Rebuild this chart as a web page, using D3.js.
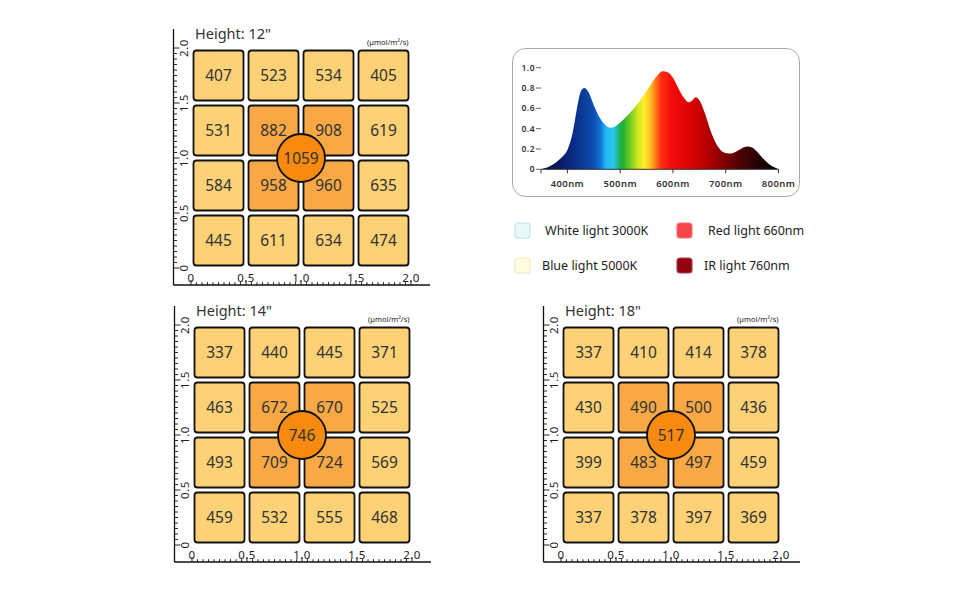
<!DOCTYPE html>
<html>
<head>
<meta charset="utf-8">
<script src="https://cdn.jsdelivr.net/npm/d3@7"></script>
<style>
  html, body { margin: 0; padding: 0; background: #fff; }
  svg { display: block; font-family: "Noto Sans", "Open Sans", sans-serif; }
</style>
</head>
<body>
<svg id="chart" width="970" height="600"></svg>
<script>
// ---------- DATA ----------
const panelTitles = ['Height: 12"', 'Height: 14"', 'Height: 18"'];
const unitLabel = "(µmol/m²/s)";
// PPFD grid values, rows top -> bottom, columns left -> right
const ppfd12 = [[407, 523, 534, 405], [531, 882, 908, 619], [584, 958, 960, 635], [445, 611, 634, 474]];
const ppfd14 = [[337, 440, 445, 371], [463, 672, 670, 525], [493, 709, 724, 569], [459, 532, 555, 468]];
const ppfd18 = [[337, 410, 414, 378], [430, 490, 500, 436], [399, 483, 497, 459], [337, 378, 397, 369]];
const centerValues = [1059, 746, 517];
const gridTicks = [0, 0.5, 1.0, 1.5, 2.0];
const gridTickLabels = ["0", "0.5", "1.0", "1.5", "2.0"];

// spectrum (wavelength nm, relative intensity)
const specWavelength = [350, 360, 370, 380, 390, 400, 410, 420, 425, 432, 440, 450, 460, 470, 480, 490, 500, 510, 520, 530, 540, 550, 560, 570, 580, 590, 600, 610, 620, 630, 637, 643, 650, 660, 670, 680, 690, 700, 710, 720, 730, 740, 750, 760, 770, 780, 790, 800];
const specIntensity = [0, 0.015, 0.04, 0.075, 0.12, 0.19, 0.36, 0.65, 0.76, 0.80, 0.76, 0.63, 0.52, 0.445, 0.41, 0.42, 0.46, 0.51, 0.565, 0.625, 0.695, 0.77, 0.85, 0.92, 0.965, 0.955, 0.9, 0.8, 0.71, 0.66, 0.68, 0.71, 0.68, 0.56, 0.40, 0.27, 0.19, 0.16, 0.155, 0.175, 0.205, 0.225, 0.215, 0.17, 0.11, 0.06, 0.025, 0];
const specYTicks = [0, 0.2, 0.4, 0.6, 0.8, 1.0];
const specYTickLabels = ["0", "0.2", "0.4", "0.6", "0.8", "1.0"];
const specXTicks = [400, 500, 600, 700, 800];
const specXTickLabels = ["400nm", "500nm", "600nm", "700nm", "800nm"];

const legendLabels = ["White light 3000K", "Blue light 5000K", "Red light 660nm", "IR light 760nm"];

// ---------- STYLE ----------
const colLight = "#FDD175";
const colDark = "#F8A845";
const colCircle = "#F98A10";
const textCol = "#333";
const panelOffsets = [[0, 0], [1, 277], [370, 277]];
const grids = [ppfd12, ppfd14, ppfd18];

const svg = d3.select("#chart");

// ---------- PPFD PANELS ----------
grids.forEach((grid, p) => {
  const [dx, dy] = panelOffsets[p];
  const g = svg.append("g");
  const x = d3.scaleLinear().domain([0, 2]).range([191 + dx, 411 + dx]);
  const y = d3.scaleLinear().domain([0, 2]).range([268 + dy, 48 + dy]);
  const axX = 173.5 + dx, axY = 285 + dy;

  // axis lines
  g.append("line").attr("x1", axX).attr("x2", axX).attr("y1", 29 + dy).attr("y2", axY)
    .attr("stroke", "#111").attr("stroke-width", 1.3);
  g.append("line").attr("x1", axX).attr("x2", 430 + dx).attr("y1", axY).attr("y2", axY)
    .attr("stroke", "#111").attr("stroke-width", 1.3);

  const minor = d3.range(0, 2.0001, 0.05);
  const isMajor = (d) => Math.abs(d * 2 - Math.round(d * 2)) < 1e-6;
  // left ticks
  g.selectAll(".yt").data(minor).join("line")
    .attr("x1", axX).attr("x2", (d) => axX + (isMajor(d) ? 6 : 3.5))
    .attr("y1", (d) => y(d)).attr("y2", (d) => y(d))
    .attr("stroke", "#111").attr("stroke-width", 0.9);
  // bottom ticks
  g.selectAll(".xt").data(minor).join("line")
    .attr("y1", axY).attr("y2", (d) => axY - (isMajor(d) ? 5 : 2.8))
    .attr("x1", (d) => x(d)).attr("x2", (d) => x(d))
    .attr("stroke", "#111").attr("stroke-width", 0.9);

  // y labels (rotated)
  g.selectAll(".yl").data(gridTicks).join("text")
    .attr("transform", (d) => `translate(${187.5 + dx},${y(d)}) rotate(-90)`)
    .attr("text-anchor", "middle")
    .attr("font-size", 11.5).attr("letter-spacing", 0.5).attr("fill", "#222")
    .text((d, i) => gridTickLabels[i]);
  // x labels
  g.selectAll(".xl").data(gridTicks).join("text")
    .attr("x", (d) => x(d)).attr("y", 281.5 + dy)
    .attr("text-anchor", "middle")
    .attr("font-size", 11.5).attr("letter-spacing", 0.5).attr("fill", "#222")
    .text((d, i) => gridTickLabels[i]);

  // title & unit
  g.append("text").attr("x", 195 + dx).attr("y", 39 + dy)
    .attr("font-size", 14.5).attr("fill", textCol).text(panelTitles[p]);
  g.append("text").attr("x", 408.5 + dx).attr("y", 45 + dy)
    .attr("text-anchor", "end").attr("font-size", 7.5).attr("fill", "#222").text(unitLabel);

  // cells
  const cells = [];
  grid.forEach((row, r) => row.forEach((v, c) => cells.push({ r, c, v })));
  const inset = 2.5;
  const cg = g.selectAll(".cell").data(cells).join("g");
  cg.append("rect")
    .attr("x", (d) => x(d.c * 0.5) + inset)
    .attr("y", (d) => y(2 - d.r * 0.5) + inset)
    .attr("width", (d) => x((d.c + 1) * 0.5) - x(d.c * 0.5) - 2 * inset)
    .attr("height", (d) => y(2 - (d.r + 1) * 0.5) - y(2 - d.r * 0.5) - 2 * inset)
    .attr("rx", 3).attr("ry", 3)
    .attr("fill", (d) => (d.r >= 1 && d.r <= 2 && d.c >= 1 && d.c <= 2) ? colDark : colLight)
    .attr("stroke", "#111").attr("stroke-width", 1.8);
  cg.append("text")
    .attr("x", (d) => x(d.c * 0.5 + 0.25))
    .attr("y", (d) => y(2 - d.r * 0.5 - 0.25))
    .attr("dy", "0.36em")
    .attr("text-anchor", "middle").attr("font-size", 15.5).attr("fill", textCol)
    .text((d) => d.v);

  // center circle
  g.append("circle").attr("cx", x(1)).attr("cy", y(1)).attr("r", 24)
    .attr("fill", colCircle).attr("stroke", "#111").attr("stroke-width", 1.8);
  g.append("text").attr("x", x(1)).attr("y", y(1)).attr("dy", "0.36em")
    .attr("text-anchor", "middle").attr("font-size", 15.5).attr("fill", textCol)
    .text(centerValues[p]);
});

// ---------- SPECTRUM ----------
const sp = svg.append("g");
sp.append("rect").attr("x", 512.5).attr("y", 48.5).attr("width", 287).attr("height", 148)
  .attr("rx", 13).attr("fill", "#fff").attr("stroke", "#a8a8a8").attr("stroke-width", 1);

const xs = d3.scaleLinear().domain([350, 800]).range([541, 778.5]);
const ys = d3.scaleLinear().domain([0, 1]).range([169.3, 67.7]);

const defs = svg.append("defs");
const gradStops = [
  [350, "#0c0d33"], [385, "#0b1a5e"], [410, "#0a2a85"], [430, "#0b3c98"], [450, "#0c4eb2"],
  [463, "#1472d6"], [473, "#20b8f5"], [488, "#2ac8ea"], [497, "#22b070"], [505, "#1fae32"],
  [518, "#6cc825"], [532, "#c8e41f"], [545, "#fff02a"], [557, "#ffbf25"], [567, "#ff7a15"],
  [578, "#ff2c12"], [600, "#f20a0a"], [635, "#d90202"], [665, "#b50000"], [700, "#7c0000"],
  [735, "#420202"], [770, "#1d0303"], [800, "#110202"]
];
const grad = defs.append("linearGradient").attr("id", "specGrad")
  .attr("gradientUnits", "userSpaceOnUse")
  .attr("x1", xs(350)).attr("x2", xs(800)).attr("y1", 0).attr("y2", 0);
grad.selectAll("stop").data(gradStops).join("stop")
  .attr("offset", (d) => (d[0] - 350) / 450)
  .attr("stop-color", (d) => d[1]);

const specData = specWavelength.map((w, i) => ({ w, v: specIntensity[i] }));
const area = d3.area().x((d) => xs(d.w)).y0(ys(0)).y1((d) => ys(d.v)).curve(d3.curveMonotoneX);
sp.append("path").datum(specData).attr("d", area).attr("fill", "url(#specGrad)");

// x axis
sp.append("line").attr("x1", xs(350)).attr("x2", xs(800)).attr("y1", ys(0)).attr("y2", ys(0))
  .attr("stroke", "#333").attr("stroke-width", 1);
sp.selectAll(".sxt").data([350].concat(specXTicks)).join("line")
  .attr("x1", (d) => xs(d)).attr("x2", (d) => xs(d)).attr("y1", ys(0)).attr("y2", ys(0) + 4)
  .attr("stroke", "#333").attr("stroke-width", 1);
sp.selectAll(".sxl").data(specXTicks).join("text")
  .attr("x", (d) => xs(d)).attr("y", 187).attr("text-anchor", "middle")
  .attr("font-size", 9.5).attr("font-weight", 600).attr("letter-spacing", 0.4).attr("fill", "#333")
  .text((d, i) => specXTickLabels[i]);
// y ticks
sp.selectAll(".syt").data(specYTicks).join("line")
  .attr("x1", xs(350) - 5).attr("x2", xs(350)).attr("y1", (d) => ys(d)).attr("y2", (d) => ys(d))
  .attr("stroke", "#555").attr("stroke-width", 0.9);
sp.selectAll(".syl").data(specYTicks).join("text")
  .attr("x", 535).attr("y", (d) => ys(d)).attr("dy", "0.35em").attr("text-anchor", "end")
  .attr("font-size", 8.5).attr("font-weight", 600).attr("letter-spacing", 0.5).attr("fill", "#333")
  .text((d, i) => specYTickLabels[i]);

// ---------- LEGEND ----------
const legendItems = [
  { x: 515, y: 223, fill: "#e9f8fd", stroke: "#bfe4f2", tx: 545, ty: 231 },
  { x: 515, y: 258, fill: "#fffce0", stroke: "#f0ebbf", tx: 542, ty: 266 },
  { x: 677, y: 223, fill: "#f8434b", stroke: "#f6737a", tx: 708, ty: 231 },
  { x: 677, y: 258, fill: "#930012", stroke: "#b0404c", tx: 704, ty: 266 }
];
const lg = svg.append("g");
lg.selectAll("rect").data(legendItems).join("rect")
  .attr("x", (d) => d.x).attr("y", (d) => d.y).attr("width", 15).attr("height", 15)
  .attr("rx", 3).attr("fill", (d) => d.fill).attr("stroke", (d) => d.stroke).attr("stroke-width", 1.2);
lg.selectAll("text").data(legendItems).join("text")
  .attr("x", (d) => d.tx).attr("y", (d) => d.ty).attr("dy", "0.35em")
  .attr("font-size", 12.5).attr("fill", "#222")
  .text((d, i) => legendLabels[i]);
</script>
</body>
</html>
